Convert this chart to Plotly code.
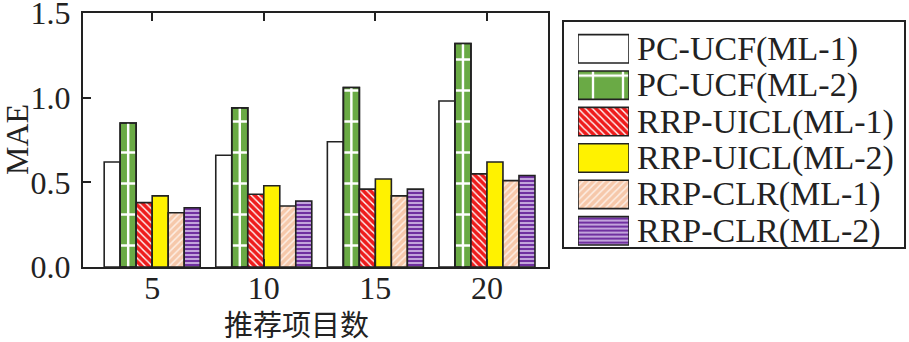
import plotly.graph_objects as go

# ---- data -------------------------------------------------------------
categories = ["5", "10", "15", "20"]          # 推荐项目数
series_names = [
    "PC-UCF(ML-1)", "PC-UCF(ML-2)",
    "RRP-UICL(ML-1)", "RRP-UICL(ML-2)",
    "RRP-CLR(ML-1)", "RRP-CLR(ML-2)",
]
pc_ucf_ml1 = [0.62, 0.66, 0.74, 0.98]
pc_ucf_ml2 = [0.85, 0.94, 1.06, 1.32]
rrp_uicl_ml1 = [0.38, 0.43, 0.46, 0.55]
rrp_uicl_ml2 = [0.42, 0.48, 0.52, 0.62]
rrp_clr_ml1 = [0.32, 0.36, 0.42, 0.51]
rrp_clr_ml2 = [0.35, 0.39, 0.46, 0.54]
y_ticks = [0.0, 0.5, 1.0, 1.5]

series_values = [pc_ucf_ml1, pc_ucf_ml2, rrp_uicl_ml1,
                 rrp_uicl_ml2, rrp_clr_ml1, rrp_clr_ml2]

# ---- styles -----------------------------------------------------------
W_PX, H_PX = 909, 342
EDGE = "#222222"
SERIF = "Liberation Serif, Times New Roman, serif"
CJK = "Noto Sans CJK SC, sans-serif"

fills = [
    dict(color="#ffffff"),
    dict(color="#6aaa45", pattern=dict(shape="-", fgcolor="#ffffff", bgcolor="#6aaa45",
                                       size=31, solidity=0.08, fillmode="replace")),
    dict(color="#ee1c1c", pattern=dict(shape="\\", fgcolor="#ffffff", bgcolor="#ee1c1c",
                                       size=5, solidity=0.28, fillmode="replace")),
    dict(color="#fff200"),
    dict(color="#f6c8aa", pattern=dict(shape="/", fgcolor="#fdeee4", bgcolor="#f6c8aa",
                                       size=5, solidity=0.3, fillmode="replace")),
    dict(color="#7030a0", pattern=dict(shape="-", fgcolor="#e6d6f5", bgcolor="#7030a0",
                                       size=4, solidity=0.35, fillmode="replace")),
]
legend_fills = list(fills)
legend_fills[1] = dict(color="#6aaa45", pattern=dict(shape="+", fgcolor="#ffffff", bgcolor="#6aaa45",
                                                     size=30, solidity=0.15, fillmode="replace"))

x_pos = list(range(len(categories)))
BAR_W = 0.1434                 # width of one bar, in category units
n_series = len(series_values)
STRIPE_W = 0.022               # centre stripe of the PC-UCF(ML-2) bars

fig = go.Figure()

for i, (name, vals) in enumerate(zip(series_names, series_values)):
    offset = -n_series / 2 * BAR_W + i * BAR_W
    fig.add_trace(go.Bar(
        x=x_pos, y=vals, width=BAR_W, offset=offset, name=name,
        marker=dict(**fills[i], line=dict(color=EDGE, width=1.6)),
        showlegend=False, xaxis="x", yaxis="y",
    ))
    if i == 1:
        # white vertical stripe through the middle, then the outline again on top
        fig.add_trace(go.Bar(
            x=x_pos, y=vals, width=STRIPE_W, offset=offset + BAR_W / 2 - STRIPE_W / 2,
            marker=dict(color="#ffffff", line=dict(width=0)),
            showlegend=False, hoverinfo="skip", xaxis="x", yaxis="y",
        ))
        fig.add_trace(go.Bar(
            x=x_pos, y=vals, width=BAR_W, offset=offset,
            marker=dict(color="rgba(0,0,0,0)", line=dict(color=EDGE, width=1.6)),
            showlegend=False, hoverinfo="skip", xaxis="x", yaxis="y",
        ))

# ---- legend drawn as its own small bar panel ------------------------------
for i, name in enumerate(series_names):
    fig.add_trace(go.Bar(
        x=[1], y=[i], base=0, orientation="h", width=0.78,
        marker=dict(**legend_fills[i], line=dict(color=EDGE, width=1.6)),
        showlegend=False, hoverinfo="skip", cliponaxis=False,
        xaxis="x2", yaxis="y2",
    ))

annotations = [
    dict(x=1, y=i, xref="x2", yref="y2", text=name, showarrow=False,
         xanchor="left", yanchor="middle", xshift=6,
         font=dict(family=SERIF, size=34, color=EDGE))
    for i, name in enumerate(series_names)
]
annotations += [
    dict(x=17 / W_PX, y=1 - 140 / H_PX, xref="paper", yref="paper", text="MAE",
         textangle=-90, showarrow=False, xanchor="center", yanchor="middle",
         font=dict(family=SERIF, size=32, color=EDGE)),
    dict(x=296 / W_PX, y=1 - 323 / H_PX, xref="paper", yref="paper", text="推荐项目数",
         showarrow=False, xanchor="center", yanchor="middle",
         font=dict(family=CJK, size=29, color=EDGE)),
]

tick_font = dict(family=SERIF, size=32, color=EDGE)

fig.update_layout(
    width=W_PX, height=H_PX,
    margin=dict(l=0, r=0, t=0, b=0, autoexpand=False),
    paper_bgcolor="#ffffff", plot_bgcolor="#ffffff",
    barmode="overlay",
    xaxis=dict(
        domain=[83 / W_PX, 548 / W_PX], range=[-0.62, 3.547], anchor="y",
        tickvals=x_pos, ticktext=categories,
        ticks="inside", ticklen=8, tickwidth=2, tickcolor=EDGE,
        showline=True, linecolor=EDGE, linewidth=2, mirror="allticks",
        showgrid=False, zeroline=False, ticklabelstandoff=-8,
        automargin=False, ticklabeloverflow="allow", tickfont=tick_font,
    ),
    yaxis=dict(
        domain=[1 - 267 / H_PX, 1 - 13 / H_PX], range=[0, 1.5], anchor="x",
        tickvals=y_ticks, ticktext=[f"{v:.1f}" for v in y_ticks],
        ticks="inside", ticklen=8, tickwidth=2, tickcolor=EDGE,
        showline=True, linecolor=EDGE, linewidth=2, mirror=True,
        showgrid=False, zeroline=False, ticklabelstandoff=4,
        automargin=False, ticklabeloverflow="allow", tickfont=tick_font,
    ),
    xaxis2=dict(domain=[578 / W_PX, 629 / W_PX], range=[0, 1], anchor="y2",
                visible=False, automargin=False),
    yaxis2=dict(domain=[1 - 249 / H_PX, 1 - 30.6 / H_PX], range=[5.5, -0.5], anchor="x2",
                visible=False, automargin=False),
    shapes=[dict(type="rect", xref="paper", yref="paper",
                 x0=563 / W_PX, x1=905 / W_PX, y0=1 - 248 / H_PX, y1=1 - 21 / H_PX,
                 line=dict(color=EDGE, width=2), fillcolor="rgba(0,0,0,0)", layer="below")],
    annotations=annotations,
    showlegend=False,
)

fig.write_html("out.html")
